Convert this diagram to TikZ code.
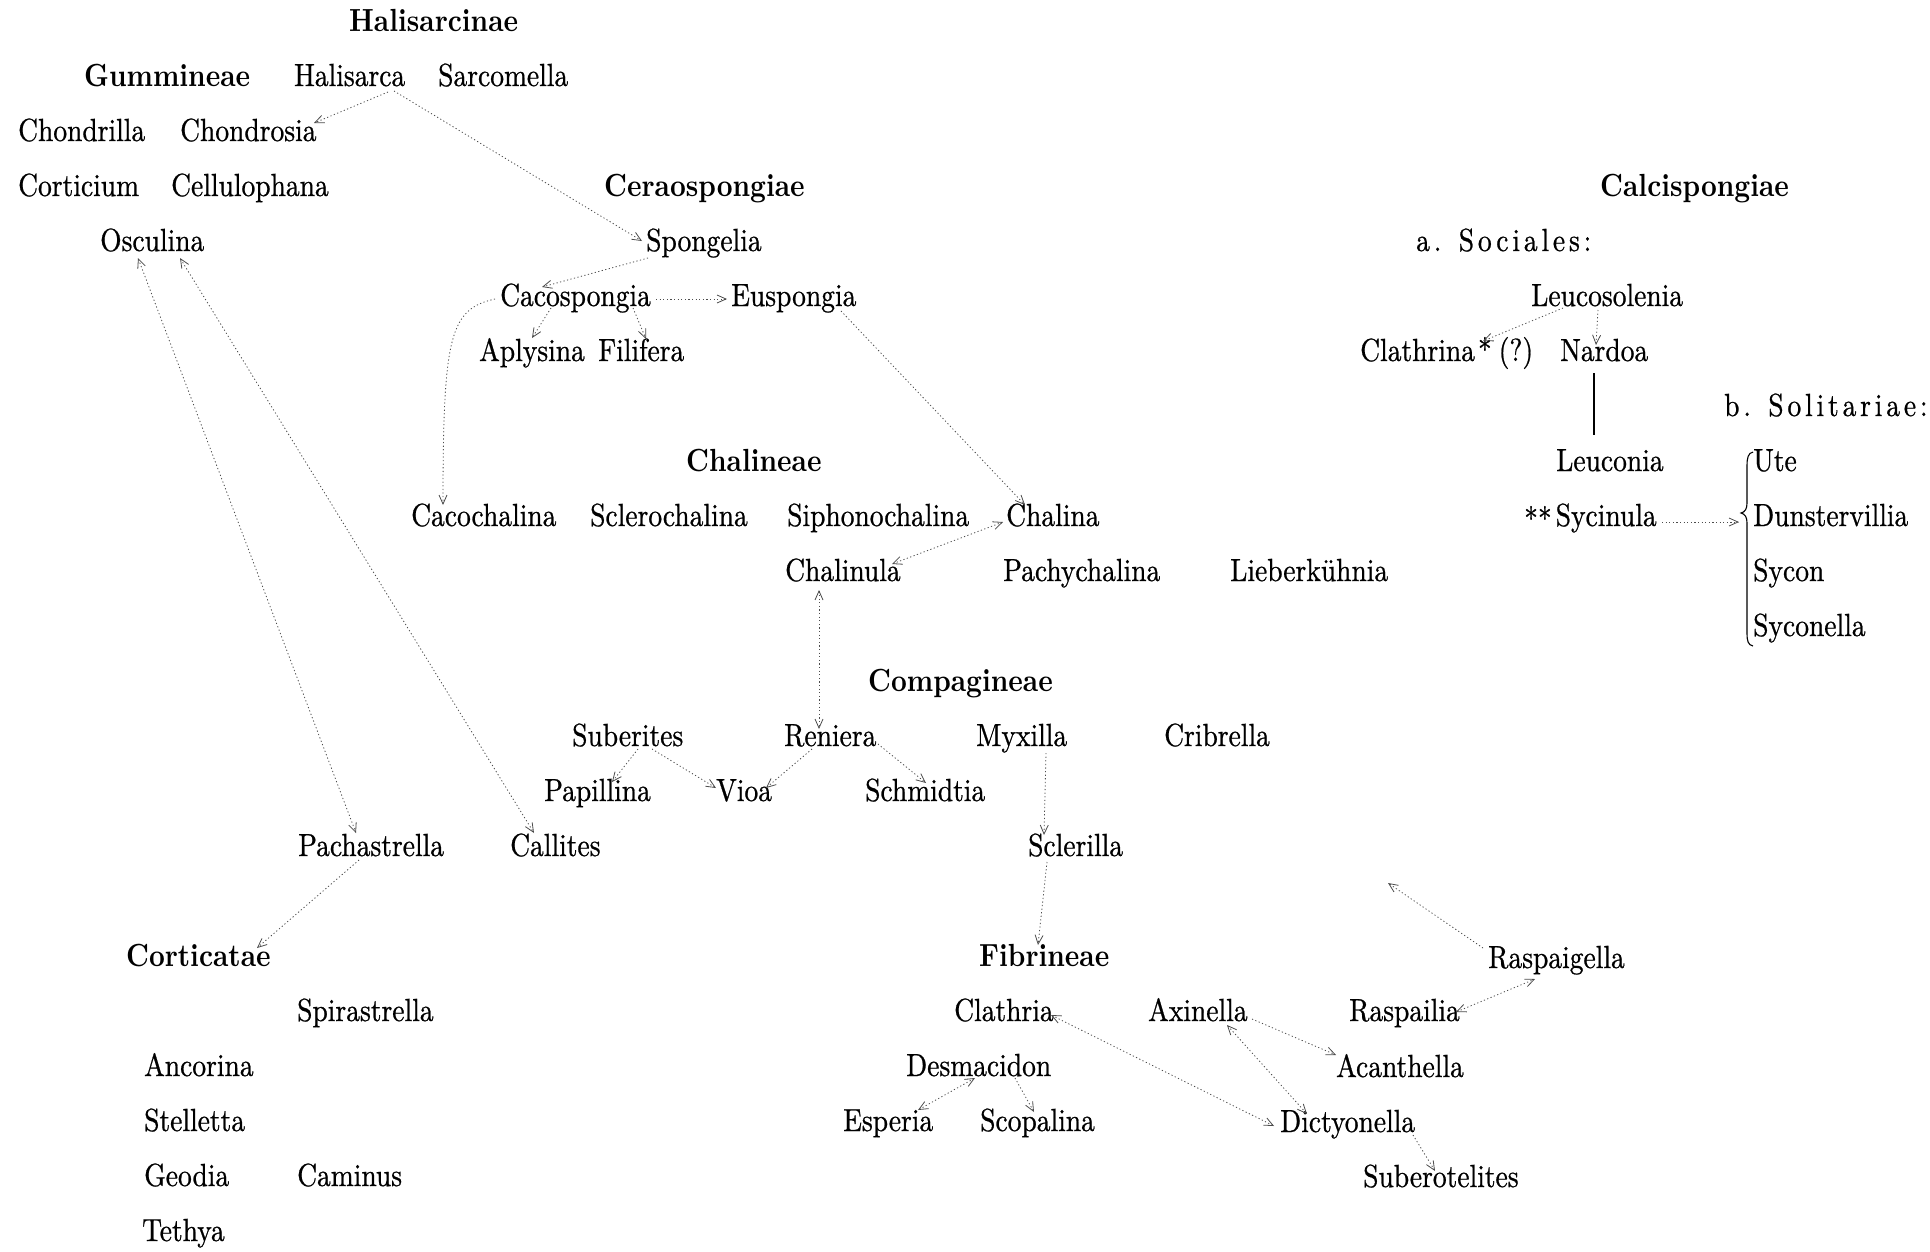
\documentclass[tikz,border=0pt]{standalone}
\usepackage{fontspec}
\setmainfont{lmroman10}[Extension=.otf, UprightFont=*-regular, BoldFont=*-bold, ItalicFont=*-italic, FakeStretch=0.86, UprightFeatures={FakeBold=0.7}]
\usetikzlibrary{arrows.meta}
\begin{document}
\begin{tikzpicture}[x=1pt,y=-1pt,
  lbl/.style={anchor=base west, inner xsep=0pt, inner ysep=2pt, font=\fontsize{32}{38}\selectfont, text height=23pt, text depth=7pt},
  hd/.style={lbl, font=\fontsize{32}{38}\selectfont\bfseries},
  sp/.style={lbl, font=\fontsize{32}{38}\selectfont\addfontfeature{LetterSpace=12}},
  con/.style={draw=black!70, line width=0.8pt, dash pattern=on 1.2pt off 2.4pt},
  arr/.style={con, -{Straight Barb[length=9pt,width=8pt]}},
  darr/.style={con, {Straight Barb[length=9pt,width=8pt]}-{Straight Barb[length=9pt,width=8pt]}},
  solidline/.style={draw=black, line width=1.2pt}
]
\fill[white] (0,0) rectangle (1930,1251);
\useasboundingbox (0,0) rectangle (1930,1251);
% Halisarcinae / Gummineae
\node[hd]  (halc) at (349,31) {Halisarcinae};
\node[hd]  (gum) at (84,86) {Gummineae};
\node[lbl] (hal) at (294,86) {Halisarca};
\node[lbl] (sarc) at (438,86) {Sarcomella};
\node[lbl] (chondrilla) at (18,141) {Chondrilla};
\node[lbl] (chondrosia) at (180,141) {Chondrosia};
\node[lbl] (corticium) at (18,196) {Corticium};
\node[lbl] (cellulo) at (171,196) {Cellulophana};
\node[lbl] (osc) at (100,251) {Osculina};
% Ceraospongiae
\node[hd]  (cera) at (604,196) {Ceraospongiae};
\node[lbl] (spong) at (646,251) {Spongelia};
\node[lbl] (caco) at (500,306) {Cacospongia};
\node[lbl] (eusp) at (731,306) {Euspongia};
\node[lbl] (aply) at (479,361) {Aplysina};
\node[lbl] (fili) at (598,361) {Filifera};
% Calcispongiae
\node[hd]  (calci) at (1600,196) {Calcispongiae};
\node[sp]  (soc) at (1416,251) {a. Sociales:};
\node[lbl] (leucos) at (1531,306) {Leucosolenia};
\node[lbl] (clathrina) at (1360,361) {Clathrina\hspace{3pt}*\hspace{7pt}(?)};
\node[lbl] (nardoa) at (1560,361) {Nardoa};
\node[sp]  (sol) at (1724,416) {b. Solitariae:};
\node[lbl] (leuconia) at (1556,471) {Leuconia};
\node[lbl] (sycinula) at (1524,526) {\raisebox{-4pt}{**}\hspace{4pt}Sycinula};
\node[lbl] (ute) at (1753,471) {Ute};
\node[lbl] (dunst) at (1753,526) {Dunstervillia};
\node[lbl] (sycon) at (1753,581) {Sycon};
\node[lbl] (syconella) at (1753,636) {Syconella};
% Chalineae
\node[hd]  (chalineae) at (686,471) {Chalineae};
\node[lbl] (cacoch) at (411,526) {Cacochalina};
\node[lbl] (scleroch) at (590,526) {Sclerochalina};
\node[lbl] (siphono) at (787,526) {Siphonochalina};
\node[lbl] (chalina) at (1006,526) {Chalina};
\node[lbl] (chalinula) at (785,581) {Chalinula};
\node[lbl] (pachych) at (1003,581) {Pachychalina};
\node[lbl] (lieber) at (1230,581) {Lieberkühnia};
% Compagineae
\node[hd]  (compag) at (868,691) {Compagineae};
\node[lbl] (suber) at (572,746) {Suberites};
\node[lbl] (reniera) at (784,746) {Reniera};
\node[lbl] (myxilla) at (976,746) {Myxilla};
\node[lbl] (cribrella) at (1164,746) {Cribrella};
\node[lbl] (papillina) at (544,801) {Papillina};
\node[lbl] (vioa) at (716,801) {Vioa};
\node[lbl] (schmidtia) at (865,801) {Schmidtia};
\node[lbl] (pachast) at (298,856) {Pachastrella};
\node[lbl] (callites) at (510,856) {Callites};
\node[lbl] (sclerilla) at (1028,856) {Sclerilla};
% Corticatae
\node[hd]  (cortic) at (126,966) {Corticatae};
\node[lbl] (spira) at (297,1021) {Spirastrella};
\node[lbl] (ancorina) at (144,1076) {Ancorina};
\node[lbl] (stelletta) at (144,1131) {Stelletta};
\node[lbl] (geodia) at (144,1186) {Geodia};
\node[lbl] (caminus) at (297,1186) {Caminus};
\node[lbl] (tethya) at (142,1241) {Tethya};
% Fibrineae
\node[hd]  (fibrin) at (979,966) {Fibrineae};
\node[lbl] (raspaig) at (1488,968) {Raspaigella};
\node[lbl] (clathria) at (954,1021) {Clathria};
\node[lbl] (axinella) at (1148,1021) {Axinella};
\node[lbl] (raspailia) at (1349,1021) {Raspailia};
\node[lbl] (desmac) at (906,1076) {Desmacidon};
\node[lbl] (acanth) at (1336,1077) {Acanthella};
\node[lbl] (esperia) at (843,1131) {Esperia};
\node[lbl] (scopalina) at (980,1131) {Scopalina};
\node[lbl] (dictyo) at (1280,1132) {Dictyonella};
\node[lbl] (suberot) at (1363,1187) {Suberotelites};
\coordinate (rfree) at (1388,883);

% connectors
\draw[arr] ([shift={(94,6)}]hal.base west) -- ([shift={(134,-18)}]chondrosia.base west);
\draw[arr] ([shift={(100,5)}]hal.base west) -- ([shift={(-4,-10)}]spong.base west);
\draw[arr] ([shift={(2,7)}]spong.base west) -- ([shift={(42,-19)}]caco.base west);
\draw[arr] ([shift={(156,-7)}]caco.base west) -- ([shift={(-4,-7)}]eusp.base west);
\draw[arr] ([shift={(51,2)}]caco.base west) -- ([shift={(53,-23)}]aply.base west);
\draw[arr] ([shift={(133,2)}]caco.base west) -- ([shift={(48,-22)}]fili.base west);
\draw[arr] ([shift={(-5,-7)}]caco.base west) .. controls +(-45,10) and +(0,-170) .. ([shift={(32,-21)}]cacoch.base west);
\draw[arr] ([shift={(110,5)}]eusp.base west) -- ([shift={(19,-21)}]chalina.base west);
\draw[darr] ([shift={(107,-17)}]chalinula.base west) -- ([shift={(-3,-4)}]chalina.base west);
\draw[darr] ([shift={(34,9)}]chalinula.base west) -- ([shift={(35,-17)}]reniera.base west);
\draw[arr] ([shift={(66,3)}]suber.base west) -- ([shift={(68,-19)}]papillina.base west);
\draw[arr] ([shift={(80,3)}]suber.base west) -- ([shift={(0,-13)}]vioa.base west);
\draw[arr] ([shift={(28,3)}]reniera.base west) -- ([shift={(50,-13)}]vioa.base west);
\draw[arr] ([shift={(94,-2)}]reniera.base west) -- ([shift={(61,-18)}]schmidtia.base west);
\draw[arr] ([shift={(70,7)}]myxilla.base west) -- ([shift={(16,-21)}]sclerilla.base west);
\draw[arr] ([shift={(19,6)}]sclerilla.base west) -- ([shift={(59,-21)}]fibrin.base west);
\draw[darr] ([shift={(38,7)}]osc.base west) -- ([shift={(58,-23)}]pachast.base west);
\draw[darr] ([shift={(80,7)}]osc.base west) -- ([shift={(24,-23)}]callites.base west);
\draw[arr] ([shift={(61,4)}]pachast.base west) -- ([shift={(131,-18)}]cortic.base west);
\draw[arr] ([shift={(-5,-20)}]raspaig.base west) -- (rfree);
\draw[darr] ([shift={(107,-9)}]raspailia.base west) -- ([shift={(47,11)}]raspaig.base west);
\draw[darr] ([shift={(97,-6)}]clathria.base west) -- ([shift={(-6,-6)}]dictyo.base west);
\draw[darr] ([shift={(79,4)}]axinella.base west) -- ([shift={(27,-18)}]dictyo.base west);
\draw[arr] ([shift={(104,-2)}]axinella.base west) -- ([shift={(0,-22)}]acanth.base west);
\draw[darr] ([shift={(69,2)}]desmac.base west) -- ([shift={(75,-21)}]esperia.base west);
\draw[arr] ([shift={(109,2)}]desmac.base west) -- ([shift={(54,-19)}]scopalina.base west);
\draw[arr] ([shift={(133,3)}]dictyo.base west) -- ([shift={(72,-16)}]suberot.base west);
\draw[arr] ([shift={(32,2)}]leucos.base west) -- ([shift={(123,-20)}]clathrina.base west);
\draw[arr] ([shift={(67,4)}]leucos.base west) -- ([shift={(36,-16)}]nardoa.base west);
\draw[solidline] ([shift={(34,12)}]nardoa.base west) -- ([shift={(38,-36)}]leuconia.base west);
\draw[arr] ([shift={(138,-4)}]sycinula.base west) -- ([shift={(-14,-4)}]dunst.base west);
% brace
\draw[solidline, line width=1.1pt] (1753,452) .. controls (1748,453) and (1747,458) .. (1747,466) -- (1747,503) .. controls (1747,509) and (1745,512) .. (1741,513) .. controls (1745,514) and (1747,517) .. (1747,523) -- (1747,633) .. controls (1747,641) and (1748,645) .. (1753,646);
\end{tikzpicture}
\end{document}
